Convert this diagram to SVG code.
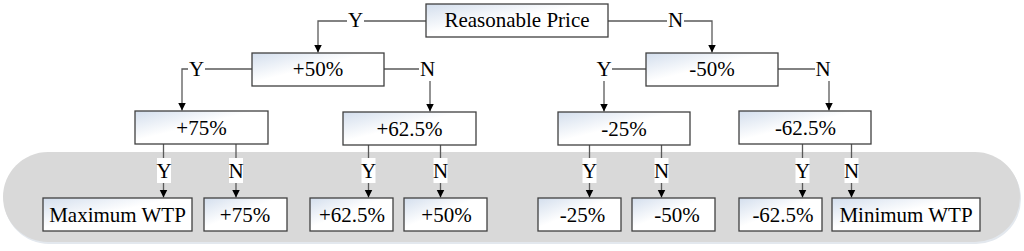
<svg xmlns="http://www.w3.org/2000/svg" width="1024" height="251" viewBox="0 0 1024 251">
<style>
.box{stroke:#404040;stroke-width:1.3;fill:url(#g)}
.t{font-family:"Liberation Serif","Times New Roman",serif;font-size:21px;fill:#000;text-anchor:middle}
.c{fill:none;stroke:#5a5a5a;stroke-width:1.3}
.lb{fill:#fff}
</style>
<defs>
<linearGradient id="g" x1="0" y1="0" x2="1" y2="1">
<stop offset="0" stop-color="#d3deed"/>
<stop offset="0.45" stop-color="#ffffff"/>
<stop offset="1" stop-color="#ffffff"/>
</linearGradient>
<marker id="a" markerUnits="userSpaceOnUse" markerWidth="9" markerHeight="9" refX="8" refY="4" orient="auto">
<path d="M0,0 L8,4 L0,8 z" fill="#000"/>
</marker>
</defs>
<rect width="1024" height="251" fill="#fff"/>
<g id="band">
<rect x="4" y="154" width="1017" height="90" rx="45" fill="#e3e8ee"/>
<rect x="3" y="152" width="1017" height="90" rx="45" fill="#d9d9d9"/>
</g>
<g id="connectors">
<path class="c" d="M426,21 H318 V52.5" marker-end="url(#a)"/>
<path class="c" d="M608,21 H712 V52.5" marker-end="url(#a)"/>
<path class="c" d="M252,69 H182 V110.5" marker-end="url(#a)"/>
<path class="c" d="M384,69 H430 V111.5" marker-end="url(#a)"/>
<path class="c" d="M646,69 H604 V111.5" marker-end="url(#a)"/>
<path class="c" d="M778,69 H829 V110.5" marker-end="url(#a)"/>
<path class="c" d="M163.5,144 V197.5" marker-end="url(#a)"/>
<path class="c" d="M236,144 V197.5" marker-end="url(#a)"/>
<path class="c" d="M368.5,145 V197.5" marker-end="url(#a)"/>
<path class="c" d="M440.5,145 V197.5" marker-end="url(#a)"/>
<path class="c" d="M589.5,145 V197.5" marker-end="url(#a)"/>
<path class="c" d="M661.5,145 V197.5" marker-end="url(#a)"/>
<path class="c" d="M802.5,144 V197.5" marker-end="url(#a)"/>
<path class="c" d="M851.5,144 V197.5" marker-end="url(#a)"/>
<rect class="lb" x="347" y="10" width="17" height="21"/>
<text class="t" x="355.5" y="27">Y</text>
<rect class="lb" x="667" y="10" width="17" height="21"/>
<text class="t" x="675.5" y="27">N</text>
<rect class="lb" x="188" y="58" width="17" height="21"/>
<text class="t" x="196.5" y="76">Y</text>
<rect class="lb" x="419" y="58" width="17" height="23"/>
<text class="t" x="427.5" y="76">N</text>
<rect class="lb" x="596" y="58" width="16" height="23"/>
<text class="t" x="604" y="76">Y</text>
<rect class="lb" x="815" y="58" width="16" height="23"/>
<text class="t" x="823" y="76">N</text>
<rect class="lb" x="157" y="158" width="14" height="25"/>
<text class="t" x="164" y="178">Y</text>
<rect class="lb" x="229" y="158" width="14" height="25"/>
<text class="t" x="236" y="178">N</text>
<rect class="lb" x="361.5" y="158" width="14" height="25"/>
<text class="t" x="368.5" y="178">Y</text>
<rect class="lb" x="433.5" y="158" width="14" height="25"/>
<text class="t" x="440.5" y="178">N</text>
<rect class="lb" x="582.5" y="158" width="14" height="25"/>
<text class="t" x="589.5" y="178">Y</text>
<rect class="lb" x="654.5" y="158" width="14" height="25"/>
<text class="t" x="661.5" y="178">N</text>
<rect class="lb" x="795.5" y="158" width="14" height="25"/>
<text class="t" x="802.5" y="178">Y</text>
<rect class="lb" x="844.5" y="158" width="14" height="25"/>
<text class="t" x="851.5" y="178">N</text>
</g>
<g id="n-root"><rect class="box" x="426" y="4" width="182" height="33"/><text class="t" x="517" y="27">Reasonable Price</text></g>
<g id="n-p50"><rect class="box" x="252" y="53" width="132" height="33"/><text class="t" x="318" y="76">+50%</text></g>
<g id="n-m50"><rect class="box" x="646" y="53" width="132" height="33"/><text class="t" x="712" y="76">-50%</text></g>
<g id="n-p75"><rect class="box" x="135" y="111" width="133" height="33"/><text class="t" x="201.5" y="135">+75%</text></g>
<g id="n-p625"><rect class="box" x="343" y="112" width="133" height="33"/><text class="t" x="409.5" y="136">+62.5%</text></g>
<g id="n-m25"><rect class="box" x="558" y="112" width="132" height="33"/><text class="t" x="624" y="136">-25%</text></g>
<g id="n-m625"><rect class="box" x="739" y="111" width="132" height="33"/><text class="t" x="805.5" y="135">-62.5%</text></g>
<g id="l-max"><rect class="box" x="43" y="198" width="149" height="33"/><text class="t" x="117.5" y="221.5">Maximum WTP</text></g>
<g id="l-p75"><rect class="box" x="204" y="198" width="83" height="33"/><text class="t" x="245" y="221.5">+75%</text></g>
<g id="l-p625"><rect class="box" x="310" y="198" width="83" height="33"/><text class="t" x="352" y="221.5">+62.5%</text></g>
<g id="l-p50"><rect class="box" x="404" y="198" width="83" height="33"/><text class="t" x="446.5" y="221.5">+50%</text></g>
<g id="l-m25"><rect class="box" x="538" y="198" width="83" height="33"/><text class="t" x="582.5" y="221.5">-25%</text></g>
<g id="l-m50"><rect class="box" x="632" y="198" width="83" height="33"/><text class="t" x="677" y="221.5">-50%</text></g>
<g id="l-m625"><rect class="box" x="739" y="198" width="83" height="33"/><text class="t" x="783" y="221.5">-62.5%</text></g>
<g id="l-min"><rect class="box" x="832" y="198" width="148" height="33"/><text class="t" x="906" y="221.5">Minimum WTP</text></g>
</svg>
